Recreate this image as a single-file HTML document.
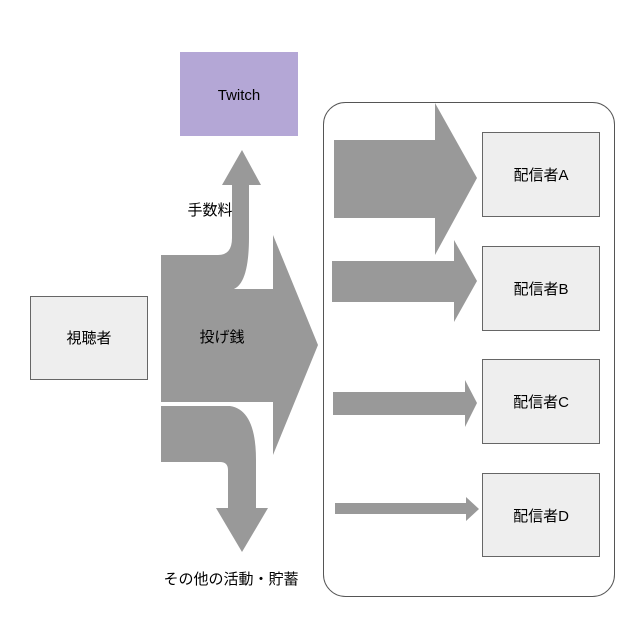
<!DOCTYPE html>
<html><head><meta charset="utf-8"><style>
html,body{margin:0;padding:0;background:#fff;width:644px;height:644px;overflow:hidden}
text{font-family:"Liberation Sans","Noto Sans CJK JP",sans-serif;font-size:15px;fill:#000}
</style></head><body>
<svg width="644" height="644" viewBox="0 0 644 644" xmlns="http://www.w3.org/2000/svg">
<rect x="323.5" y="102.5" width="291" height="494" rx="22" fill="#fff" stroke="#555" stroke-width="1"/>
<rect x="180" y="52" width="118" height="84" fill="#b4a7d6"/>
<text x="239" y="100" text-anchor="middle">Twitch</text>
<rect x="30.5" y="296.5" width="117" height="83" fill="#eeeeee" stroke="#666"/>
<text x="89" y="343" text-anchor="middle">視聴者</text>
<g fill="#999999">
<!-- upper fee band -->
<path d="M161,255 L218,255 Q232,255 232,238 L232,185 L222,185 L242,150 L261,185 L249,185 L249,237 Q249,288 230,290 L161,290 Z"/>
<!-- main arrow -->
<path d="M161,289 L273,289 L273,235 L318,345 L273,455 L273,402 L161,402 Z"/>
<!-- lower band -->
<path d="M161,406 L230,406 Q256,410 256,460 L256,508 L268,508 L242,552 L216,508 L228,508 L228,470 Q228,462 220,462 L161,462 Z"/>
<!-- right arrows -->
<path d="M334,140 L435,140 L435,103 L477,178 L435,255 L435,218 L334,218 Z"/>
<path d="M332,261 L454,261 L454,240 L477,281 L454,322 L454,302 L332,302 Z"/>
<path d="M333,392 L465,392 L465,380 L477,403 L465,427 L465,415 L333,415 Z"/>
<path d="M335,503 L466,503 L466,497 L479,509 L466,521 L466,514 L335,514 Z"/>
</g>
<text x="210" y="215" text-anchor="middle">手数料</text>
<text x="222" y="342" text-anchor="middle">投げ銭</text>
<text x="231" y="584" text-anchor="middle">その他の活動・貯蓄</text>
<g fill="#eeeeee" stroke="#666">
<rect x="482.5" y="132.5" width="117" height="84"/>
<rect x="482.5" y="246.5" width="117" height="84"/>
<rect x="482.5" y="359.5" width="117" height="84"/>
<rect x="482.5" y="473.5" width="117" height="83"/>
</g>
<text x="541" y="180" text-anchor="middle">配信者A</text>
<text x="541" y="294" text-anchor="middle">配信者B</text>
<text x="541" y="407" text-anchor="middle">配信者C</text>
<text x="541" y="521" text-anchor="middle">配信者D</text>
</svg>
</body></html>
